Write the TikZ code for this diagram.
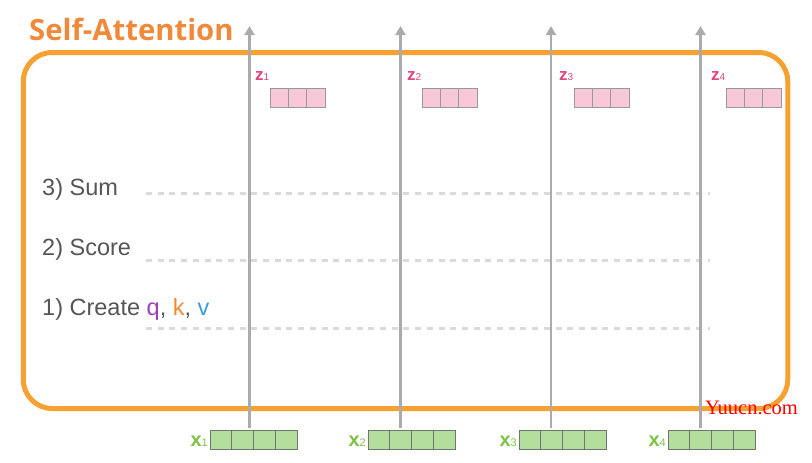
\documentclass[tikz,border=0pt]{standalone}
\usepackage{fontspec}
\setmainfont{Liberation Sans}
\newfontfamily\titlefont{Open Sans}
\newfontfamily\wmfont{Liberation Serif}
\usetikzlibrary{arrows.meta}
\definecolor{frameor}{HTML}{F7A132}
\definecolor{titleor}{HTML}{F0893A}
\definecolor{txtgray}{HTML}{555555}
\definecolor{qcol}{HTML}{9B3FBF}
\definecolor{kcol}{HTML}{F28C30}
\definecolor{vcol}{HTML}{3A9BE0}
\definecolor{zcol}{HTML}{E0457B}
\definecolor{zfill}{HTML}{F8C8D9}
\definecolor{xcol}{HTML}{7DC242}
\definecolor{xfill}{HTML}{B3DE9B}
\definecolor{arrgray}{HTML}{AAABAF}
\definecolor{dashgray}{HTML}{DADADA}
\tikzset{
  framebox/.style={draw=frameor, line width=5pt, rounded corners=29pt, minimum width=764.5pt, minimum height=356pt, inner sep=0pt},
  zcell/.style={draw=gray!80, fill=zfill, line width=0.7pt, minimum width=18.33pt, minimum height=19pt, inner sep=0pt},
  xcell/.style={draw=gray!90!black, fill=xfill, line width=0.8pt, minimum width=21.75pt, minimum height=19pt, inner sep=0pt},
  uparrow/.style={draw=arrgray, line width=2.3pt, -{Triangle[length=9pt,width=10pt]}},
  steplabel/.style={anchor=base west, text=txtgray, font=\fontsize{23.5}{26}\selectfont, inner sep=0pt},
  sepline/.style={draw=dashgray, line width=3pt, dash pattern=on 6pt off 5.7pt},
  zlabel/.style={anchor=base west, text=zcol, inner sep=0pt},
  xlabel/.style={anchor=base east, text=xcol, inner sep=0pt},
}
\begin{document}
\begin{tikzpicture}[x=1pt,y=-1pt]
\useasboundingbox (0,0) rectangle (812,463);
% frame
\node[framebox] (frame) at (405.5,230.5) {};
% title
\node[anchor=base west, inner sep=0pt, text=titleor, font=\titlefont\bfseries\fontsize{29.3}{31}\selectfont] (title) at (29,41) {Self-Attention};
% step labels
\node[steplabel] (sum) at (42,195) {3) Sum};
\node[steplabel] (score) at (42,255) {2) Score};
\node[steplabel] (create) at (42,315) {1) Create \textcolor{qcol}{q}, \textcolor{kcol}{k}, \textcolor{vcol}{v}};
% dashed separator lines
\coordinate (d3a) at (146,193.5); \coordinate (d3b) at (710,193.5);
\coordinate (d2a) at (146,260.5); \coordinate (d2b) at (710,260.5);
\coordinate (d1a) at (146,328); \coordinate (d1b) at (710,328);
\draw[sepline] (d3a) -- (d3b);
\draw[sepline] (d2a) -- (d2b);
\draw[sepline] (d1a) -- (d1b);
% x input vectors
\foreach \i/\xl/\ax in {1/210/249.5, 2/368/400.5, 3/519/551, 4/668/700.5} {
  \foreach \c in {0,1,2,3} {
    \node[xcell] (x\i c\c) at ({\xl+10.875+21.75*\c},439.5) {};
  }
  \node[xlabel] (xl\i) at ({\xl-2},446) {\bfseries\fontsize{20}{22}\selectfont x\mdseries\fontsize{11}{12}\selectfont\i};
  \coordinate (top\i) at (\ax,26);
  \draw[uparrow] (top\i |- x\i c0.north) ++(0,-2) -- (top\i);
}
% z output vectors
\foreach \i/\zl in {1/270, 2/422, 3/574, 4/726} {
  \foreach \c in {0,1,2} {
    \node[zcell] (z\i c\c) at ({\zl+9.165+18.33*\c},97.5) {};
  }
  \node[zlabel] (zl\i) at ({\zl-15},80) {\bfseries\fontsize{17}{19}\selectfont z\mdseries\fontsize{10}{11}\selectfont\i};
}
% watermark
\node[anchor=base, inner sep=0pt, text=red, font=\wmfont\fontsize{20.5}{22}\selectfont] (wm) at (751.5,414) {Yuucn.com};
\end{tikzpicture}
\end{document}
